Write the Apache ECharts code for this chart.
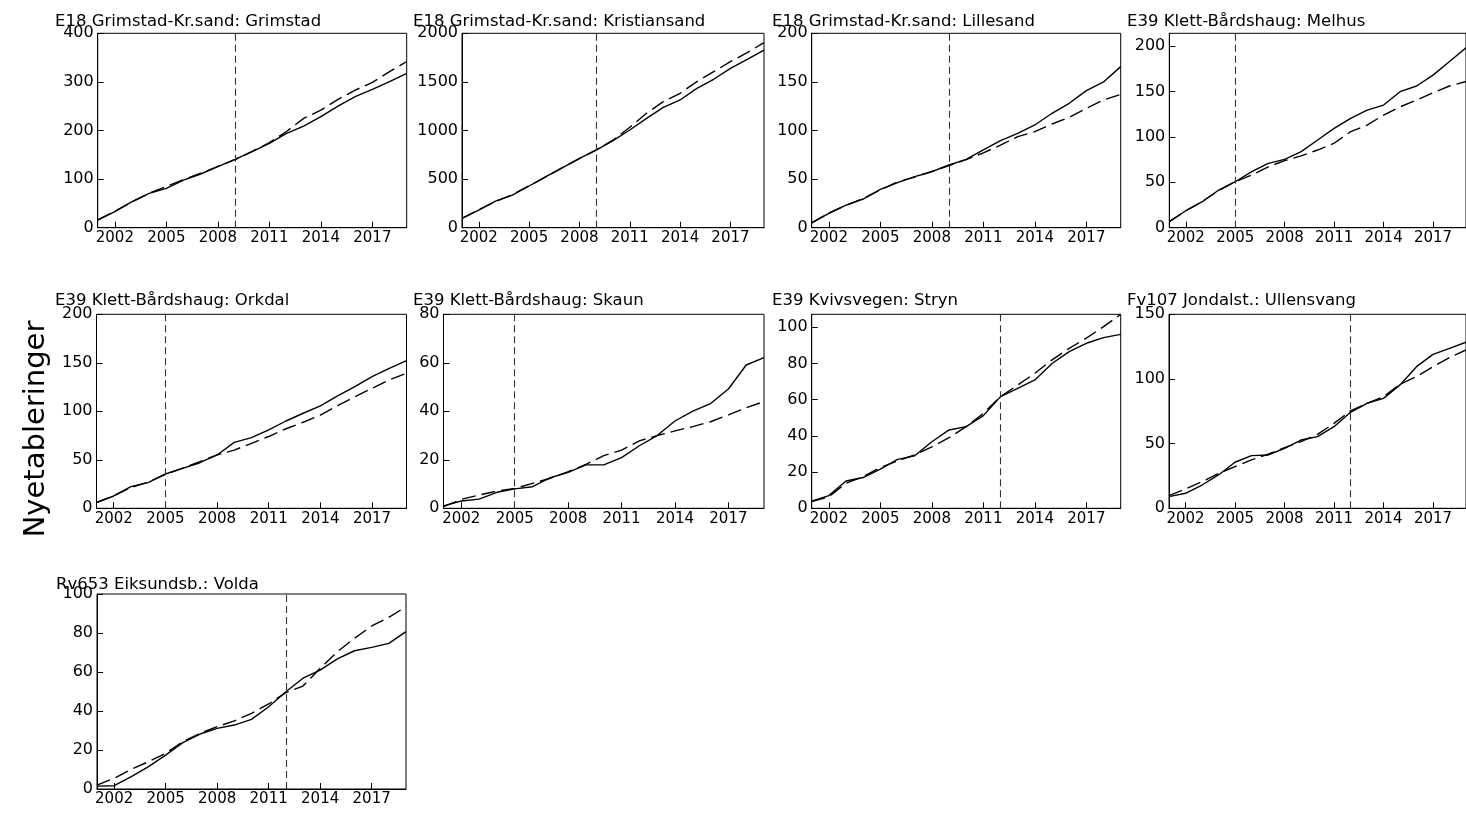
<!DOCTYPE html>
<html>
<head>
<meta charset="utf-8">
<script src="https://cdn.jsdelivr.net/npm/echarts@6/dist/echarts.min.js"></script>
<style>
  html, body { margin: 0; padding: 0; background: #fff; overflow: hidden; }
  #chart { width: 1466px; height: 813px; }
</style>
</head>
<body>
<div id="chart"></div>
<script>
// Yearly observations 2001-2019
const years = [2001,2002,2003,2004,2005,2006,2007,2008,2009,2010,2011,2012,2013,2014,2015,2016,2017,2018,2019];
const xTicks = [2002,2005,2008,2011,2014,2017];

const panelTitles = [
  'E18 Grimstad-Kr.sand: Grimstad',
  'E18 Grimstad-Kr.sand: Kristiansand',
  'E18 Grimstad-Kr.sand: Lillesand',
  'E39 Klett-Bårdshaug: Melhus',
  'E39 Klett-Bårdshaug: Orkdal',
  'E39 Klett-Bårdshaug: Skaun',
  'E39 Kvivsvegen: Stryn',
  'Fv107 Jondalst.: Ullensvang',
  'Rv653 Eiksundsb.: Volda'
];

// Opening year of each road project (vertical reference line)
const openingYears = [2009, 2009, 2009, 2005, 2005, 2005, 2012, 2012, 2012];

// Observed (solid) and synthetic (dashed) cumulative new establishments
const grimstadObs   = [15.8,33,53.5,70.7,81,98,110.5,125.6,140.7,156.4,173.6,194,209,228.5,250,269.6,284.7,300.5,317.7];
const grimstadSynth = [16,34,53,71,85,99,112,126,140,157,175,198,225,242,264,283,299,321,342];

const kristiansandObs   = [96,182,274,336,429,525,617,713,799,895,1005,1125,1238,1314,1434,1527,1640,1732,1828];
const kristiansandSynth = [95,185,270,340,432,522,620,710,800,900,1033,1177,1297,1383,1503,1605,1708,1801,1904];

const lillesandObs   = [5,14.8,23.3,29.5,39.5,46.3,52.5,57.6,64.5,70.3,80,89.5,97,105.7,117.7,128,141,150,165.7];
const lillesandSynth = [5,15,23,30,39,47,52,58,64,70,77,85,93.7,98.8,106.7,113.6,122.8,131.4,137.2];

const melhusObs   = [6.6,18.7,28.6,41.5,50.6,61.7,70.8,75.2,83.7,96.5,109.4,120.4,129.5,135,149.7,156,168,183,198];
const melhusSynth = [6.6,18.5,28.8,41,50.6,58,67,73.8,79,85.5,93,105.7,113,124,133,140.5,148.6,156,161];

const orkdalObs   = [5.8,12.7,22.3,26.5,35.4,41.2,47,55,68,72.9,80.8,90,98,105.5,115.8,125.4,135.7,144.3,152.2];
const orkdalSynth = [6,13,21.5,27,35,41.5,48,55,60,67,74,82,88.7,96,105.8,115,123.7,132.3,139.2];

const skaunObs   = [1,3,3.8,6.6,8,8.9,12.6,14.8,17.9,17.9,20.9,25.8,30,36,40.1,43.2,49.2,59.1,62.1];
const skaunSynth = [0.7,3.7,5.5,7.1,8.2,10.3,12.4,15.1,18.1,21.7,24,27.8,30,31.9,33.7,35.7,38.5,41.5,44];

const strynObs   = [4,7,15.1,17,21.7,27,29,36.8,43.3,45.1,51.2,61.7,66.3,70.9,80,86.6,91.2,94.3,96.1];
const strynSynth = [3.7,6.4,13.8,17.5,22.5,26.2,29.5,34,39,45.1,52.5,61.7,68.1,74.6,82,88.4,94,100.4,107.2];

const ullensvangObs   = [9,11.6,18,25.8,35.6,40.7,41.2,46.4,52.8,55.4,63.1,74.2,81.2,85,95.4,109.5,119,123.7,128.4];
const ullensvangSynth = [9.8,15,20.6,27,32.2,37.4,41.8,46.9,51.5,57.2,65.7,75.3,81.2,86.3,95.9,101.8,109.5,116.5,122.4];

const voldaObs   = [1.5,1.7,6.3,11.5,17.4,23.8,28.2,31.1,32.8,35.7,42.2,49.9,56.8,61,66.7,70.9,72.6,74.7,80.7];
const voldaSynth = [2,5.5,10.1,14,18.3,24.3,28.5,32,34.9,38.8,43.6,49.4,52.8,61.9,70.4,77.3,83.6,88,93.5];

const observed  = [grimstadObs, kristiansandObs, lillesandObs, melhusObs, orkdalObs, skaunObs, strynObs, ullensvangObs, voldaObs];
const synthetic = [grimstadSynth, kristiansandSynth, lillesandSynth, melhusSynth, orkdalSynth, skaunSynth, strynSynth, ullensvangSynth, voldaSynth];

// Y axis tick labels and upper limits
const yTicks = [
  [0,100,200,300,400],
  [0,500,1000,1500,2000],
  [0,50,100,150,200],
  [0,50,100,150,200],
  [0,50,100,150,200],
  [0,20,40,60,80],
  [0,20,40,60,80,100],
  [0,50,100,150],
  [0,20,40,60,80,100]
];
const yMax = [400, 2000, 200, 214, 200, 80, 107.2, 150, 100];

const yAxisTitle = 'Nyetableringer';

// ---- Layout (pixels): plot boxes and title anchors ----
const plotBoxes = [
  [97.7, 33.3, 309, 194.4],
  [462, 33.3, 302, 194.4],
  [811.7, 33.3, 309, 194.4],
  [1169.3, 33.3, 308.4, 194.4],
  [96.5, 314.3, 310, 194],
  [443.5, 314.3, 320.5, 194],
  [811.7, 314.3, 309, 194],
  [1169, 314.3, 308.4, 194],
  [97, 594, 309, 195]
];
const titleLeft = [55, 413, 772, 1127, 55, 413, 772, 1127, 56];
const titleTop  = [13, 13, 13, 13, 292, 292, 292, 292, 576];

const FONT = 'DejaVu Sans';
const INK = '#000';

const grids = [], xAxes = [], yAxes = [], series = [], titles = [];

plotBoxes.forEach((b, i) => {
  grids.push({
    left: b[0], top: b[1], width: b[2], height: b[3],
    show: true, borderColor: INK, borderWidth: 1, backgroundColor: 'transparent',
    containLabel: false
  });
  xAxes.push({
    type: 'value', gridIndex: i, min: 2001, max: 2019,
    axisLine: { show: true, lineStyle: { color: INK, width: 1 } },
    axisTick: { show: true, inside: true, length: 6, lineStyle: { color: INK, width: 1 }, customValues: xTicks },
    axisLabel: { show: true, color: INK, fontFamily: FONT, fontSize: 15, margin: 3, customValues: xTicks, formatter: v => String(v) },
    splitLine: { show: false }
  });
  yAxes.push({
    type: 'value', gridIndex: i, min: 0, max: yMax[i],
    axisLine: { show: true, lineStyle: { color: INK, width: 1 } },
    axisTick: { show: true, inside: true, length: 6, lineStyle: { color: INK, width: 1 }, customValues: yTicks[i] },
    axisLabel: { show: true, color: INK, fontFamily: FONT, fontSize: 16, margin: 4, customValues: yTicks[i], formatter: v => String(v) },
    splitLine: { show: false }
  });
  series.push({
    type: 'line', xAxisIndex: i, yAxisIndex: i,
    data: years.map((y, k) => [y, observed[i][k]]),
    showSymbol: false, symbol: 'none',
    lineStyle: { color: INK, width: 1.4, type: 'solid' },
    markLine: {
      silent: true, symbol: ['none', 'none'], label: { show: false },
      lineStyle: { color: '#333', width: 1.1, type: [7, 4] },
      data: [{ xAxis: openingYears[i] }]
    },
    z: 3
  });
  series.push({
    type: 'line', xAxisIndex: i, yAxisIndex: i,
    data: years.map((y, k) => [y, synthetic[i][k]]),
    showSymbol: false, symbol: 'none',
    lineStyle: { color: INK, width: 1.4, type: [14, 6] },
    z: 2
  });
  titles.push({
    text: panelTitles[i], left: titleLeft[i], top: titleTop[i], padding: 0,
    textStyle: { fontFamily: FONT, fontSize: 16.5, fontWeight: 'normal', color: INK }
  });
});

const chart = echarts.init(document.getElementById('chart'), null, { renderer: 'canvas' });
chart.setOption({
  backgroundColor: '#fff',
  animation: false,
  title: titles,
  grid: grids,
  xAxis: xAxes,
  yAxis: yAxes,
  series: series,
  graphic: [{
    type: 'text', x: 36, y: 429, rotation: Math.PI / 2,
    style: { text: yAxisTitle, fill: INK, font: '29px "DejaVu Sans"', textAlign: 'center', textVerticalAlign: 'middle' }
  }]
});
</script>
</body>
</html>
